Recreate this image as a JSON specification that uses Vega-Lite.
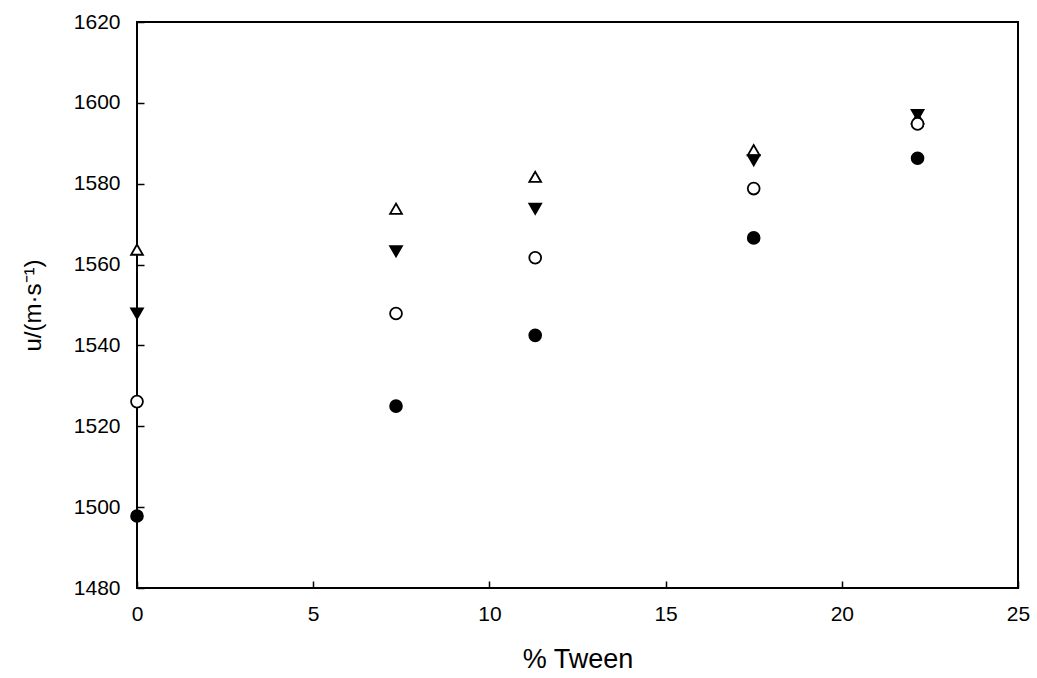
{
  "$schema": "https://vega.github.io/schema/vega-lite/v6.json",
  "width": 881,
  "height": 566,
  "autosize": {"type": "none"},
  "padding": {"left": 137, "top": 22, "right": 19, "bottom": 90},
  "background": "white",
  "config": {
    "view": {"stroke": "black", "strokeWidth": 2},
    "axis": {
      "labelFont": "Liberation Sans",
      "titleFont": "Liberation Sans",
      "labelFontSize": 21,
      "titleFontSize": 24,
      "labelColor": "black",
      "titleColor": "black",
      "titleFontWeight": "normal",
      "domain": false,
      "offset": -7,
      "tickColor": "black",
      "tickWidth": 1.5,
      "tickSize": 7,
      "labelFlush": false,
      "grid": false,
      "format": "d"
    }
  },
  "data": {
    "values": [
      {"tween": 0, "u": 1563.7, "series": "S1"},
      {"tween": 0, "u": 1547.9, "series": "S2"},
      {"tween": 0, "u": 1526.1, "series": "S3"},
      {"tween": 0, "u": 1497.8, "series": "S4"},
      {"tween": 7.35, "u": 1573.8, "series": "S1"},
      {"tween": 7.35, "u": 1563.3, "series": "S2"},
      {"tween": 7.35, "u": 1547.9, "series": "S3"},
      {"tween": 7.35, "u": 1525.0, "series": "S4"},
      {"tween": 11.3, "u": 1581.7, "series": "S1"},
      {"tween": 11.3, "u": 1573.8, "series": "S2"},
      {"tween": 11.3, "u": 1561.7, "series": "S3"},
      {"tween": 11.3, "u": 1542.5, "series": "S4"},
      {"tween": 17.5, "u": 1588.3, "series": "S1"},
      {"tween": 17.5, "u": 1585.8, "series": "S2"},
      {"tween": 17.5, "u": 1578.8, "series": "S3"},
      {"tween": 17.5, "u": 1566.6, "series": "S4"},
      {"tween": 22.15, "u": 1596.2, "series": "S1"},
      {"tween": 22.15, "u": 1597.0, "series": "S2"},
      {"tween": 22.15, "u": 1594.8, "series": "S3"},
      {"tween": 22.15, "u": 1586.3, "series": "S4"}
    ]
  },
  "mark": {"type": "point", "filled": true, "stroke": "black", "strokeWidth": 1.8, "size": 140, "opacity": 1},
  "encoding": {
    "x": {
      "field": "tween", "type": "quantitative",
      "scale": {"domain": [0, 25], "nice": false, "zero": false},
      "axis": {"title": "% Tween", "titleFontSize": 27, "values": [0, 5, 10, 15, 20, 25], "labelPadding": 15, "titlePadding": 22}
    },
    "y": {
      "field": "u", "type": "quantitative",
      "scale": {"domain": [1480, 1620], "nice": false, "zero": false},
      "axis": {"title": "u/(m·s⁻¹)", "values": [1480, 1500, 1520, 1540, 1560, 1580, 1600, 1620], "labelPadding": 17, "titlePadding": 28}
    },
    "shape": {
      "field": "series", "type": "nominal", "legend": null,
      "scale": {"domain": ["S1", "S2", "S3", "S4"], "range": ["triangle-up", "triangle-down", "circle", "circle"]}
    },
    "fill": {
      "field": "series", "type": "nominal", "legend": null,
      "scale": {"domain": ["S1", "S2", "S3", "S4"], "range": ["white", "black", "white", "black"]}
    }
  }
}
